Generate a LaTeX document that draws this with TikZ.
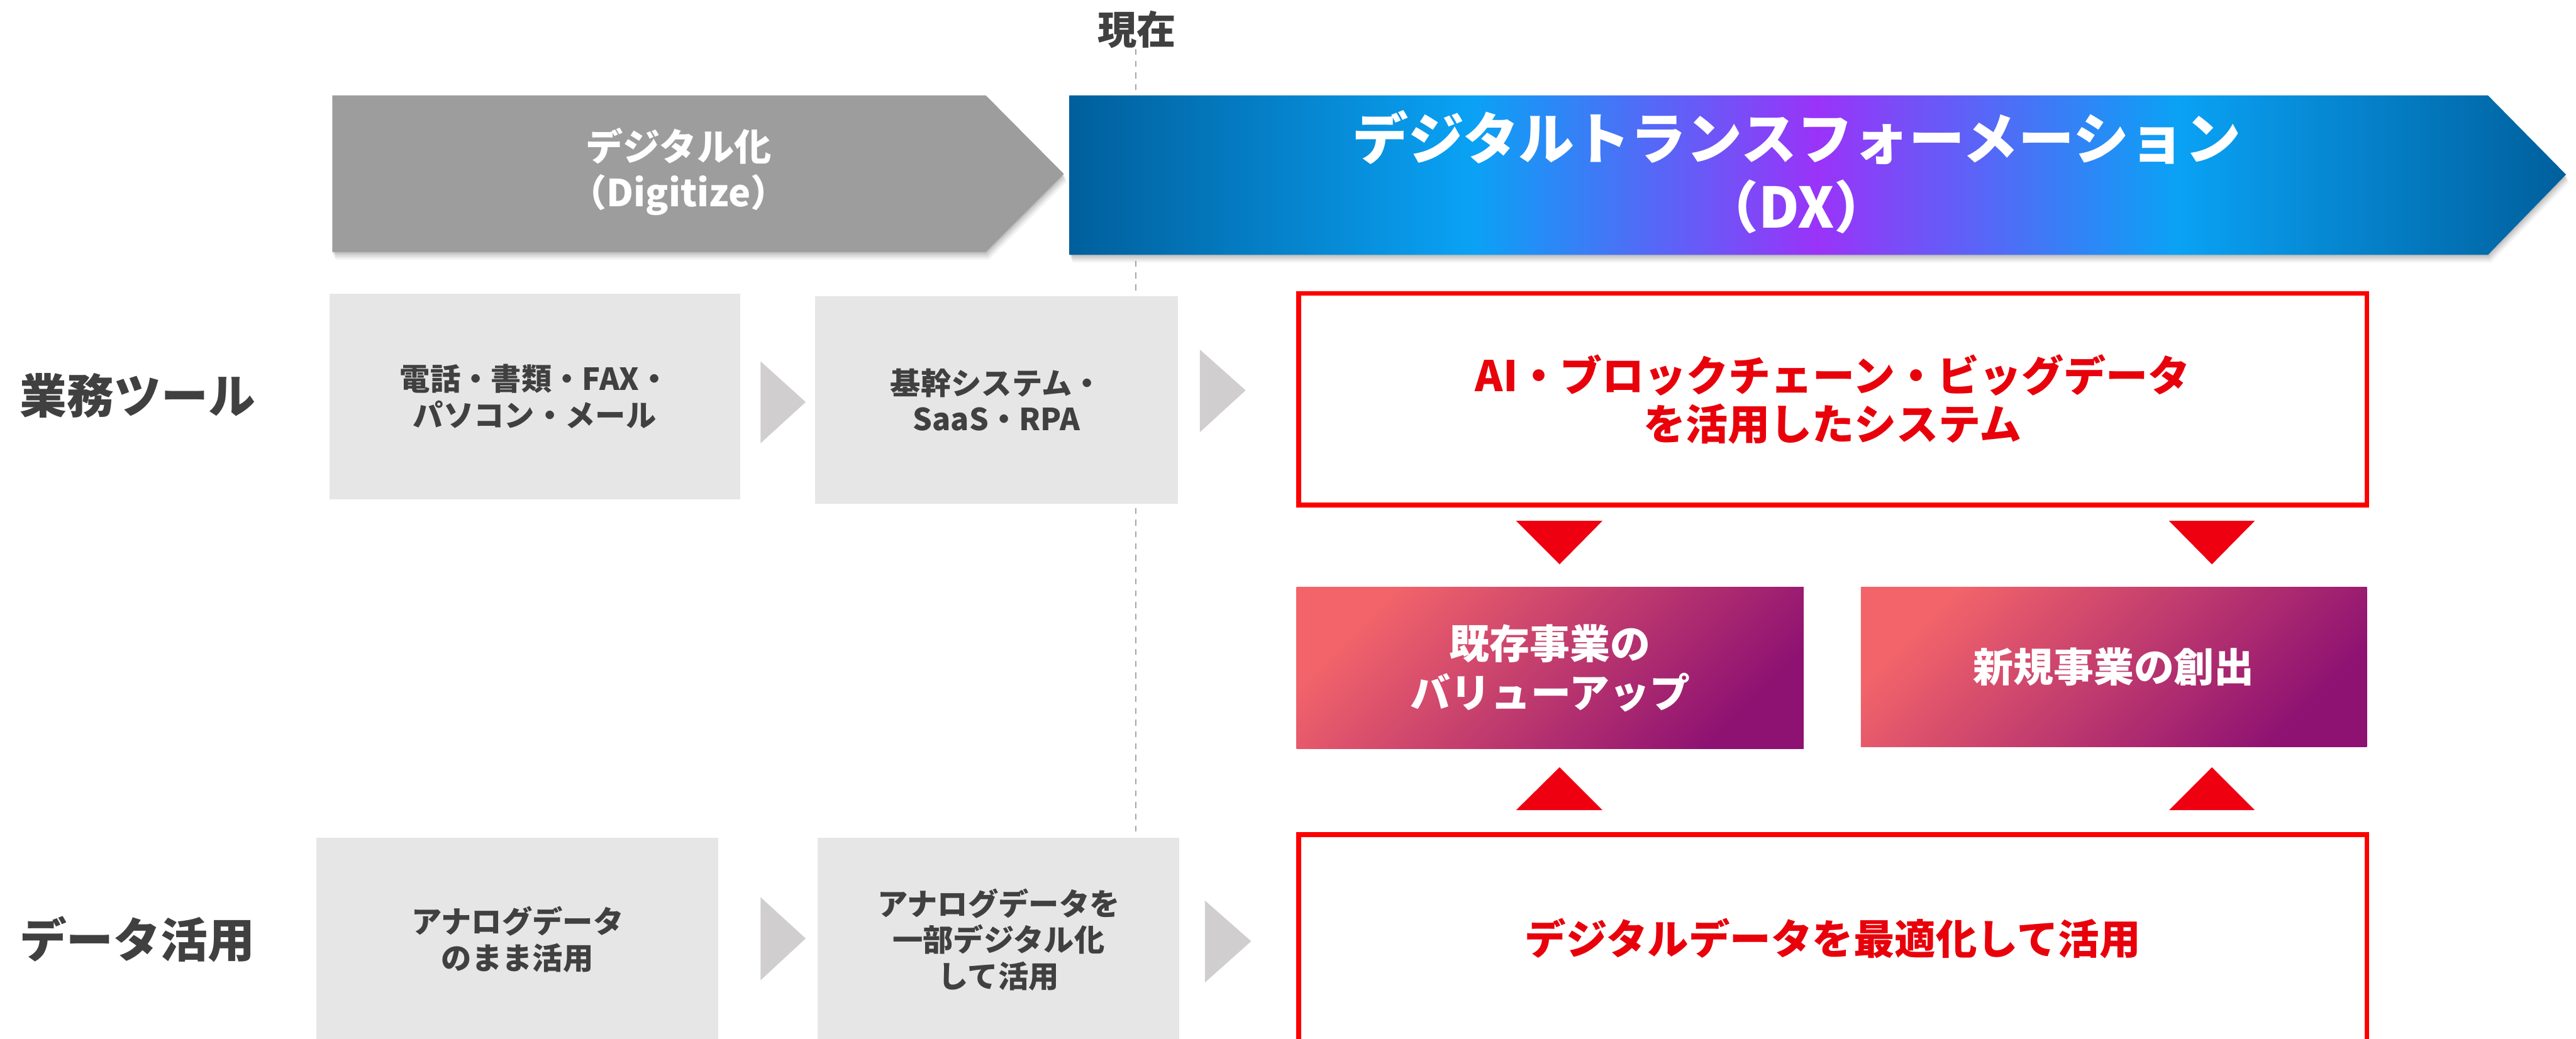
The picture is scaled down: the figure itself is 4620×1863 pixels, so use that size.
\documentclass[tikz,border=0pt]{standalone}
\usepackage{fontspec}
\setmainfont{Noto Sans CJK JP}
\usetikzlibrary{shadings,calc}
\definecolor{txtdark}{HTML}{404040}
\definecolor{boxgray}{HTML}{E7E6E6}
\definecolor{chevgray}{HTML}{D0CECE}
\definecolor{arrowgray}{HTML}{9D9D9D}
\definecolor{lineGray}{HTML}{A6A6A6}
\definecolor{redline}{HTML}{FF0000}
\definecolor{redtext}{HTML}{E8000B}
\definecolor{redtri}{HTML}{EE0011}
\definecolor{coral}{HTML}{F2646A}
\definecolor{plum}{HTML}{8E1272}
\definecolor{dxdark}{HTML}{005F9C}
\definecolor{dxlight}{HTML}{0AA2F5}
\definecolor{dxpurple}{HTML}{9A33F8}
\pgfdeclarehorizontalshading{dxshade}{100bp}{color(0bp)=(dxdark); color(25bp)=(dxdark); color(38.5bp)=(dxlight); color(50bp)=(dxpurple); color(62bp)=(dxlight); color(75bp)=(dxdark); color(100bp)=(dxdark)}
\begin{document}
\begin{tikzpicture}[x=0.01cm,y=-0.01cm,
  rowlbl/.style={text=txtdark,font=\bfseries\fontsize{24}{28}\selectfont,inner sep=0pt},
  graybox/.style={fill=boxgray,draw=none,inner sep=0pt,align=center,text=txtdark,
    font=\bfseries\fontsize{15.5}{18.5}\selectfont},
  redbox/.style={draw=redline,line width=2.4pt,fill=white,inner sep=0pt,align=center,text=redtext,
    minimum width=19.15cm},
  magbox/.style={top color=coral,bottom color=plum,shading angle=45,inner sep=0pt,align=center,
    text=white,font=\bfseries\fontsize{20.5}{25}\selectfont},
  chev/.style={fill=chevgray},
  redtriangle/.style={fill=redtri},
  nowline/.style={draw=lineGray,line width=0.7pt,dash pattern=on 3pt off 3pt}]
\useasboundingbox (0,0) rectangle (4620,1863);

% "now" marker
\node[text=txtdark,font=\bfseries\fontsize{20}{24}\selectfont] (now) at (2039,53) {現在};
\coordinate (lt) at (2037,88);
\coordinate (lb) at (2037,1498);
\draw[nowline] (lt) -- (lb);

% shadows of the phase arrows
\foreach \s/\o in {2/0.07,5/0.07,8/0.06,11/0.05,14/0.04}{
  \fill[black,opacity=\o,shift={(\s*0.4,\s)}] (596,171) -- (1768,171) -- (1908,312) -- (1768,452) -- (596,452) -- cycle;
  \fill[black,opacity=\o,shift={(\s*0.4,\s)}] (1918,171) -- (4462,171) -- (4602,313) -- (4462,457) -- (1918,457) -- cycle;
}
% phase arrows
\fill[arrowgray] (596,171) -- (1768,171) -- (1908,312) -- (1768,452) -- (596,452) -- cycle;
\shade[shading=dxshade] (1918,171) -- (4462,171) -- (4602,313) -- (4462,457) -- (1918,457) -- cycle;
\node[text=white,align=center,font=\bfseries\fontsize{19}{23.6}\selectfont] (digi) at (1217,308) {デジタル化\\（Digitize）};
\node[text=white,align=center,font=\bfseries\fontsize{28.5}{35}\selectfont] (dx) at (3222,309) {デジタルトランスフォーメーション\\（DX）};

% row labels
\node[rowlbl] (rowtool) at (247,710) {業務ツール};
\node[rowlbl] (rowdata) at (246,1685) {データ活用};

% row 1 : tools
\node[graybox,minimum width=7.36cm,minimum height=3.69cm] (t1) at (959,711) {電話・書類・FAX・\\パソコン・メール};
\node[graybox,minimum width=6.51cm,minimum height=3.72cm] (t2) at (1787,717) {基幹システム・\\SaaS・RPA};
\fill[chev] (1364,648) -- (1445,721) -- (1364,795) -- cycle;
\fill[chev] (2152,627) -- (2234,700) -- (2152,775) -- cycle;

% row 2 : data
\node[graybox,minimum width=7.20cm,minimum height=3.66cm] (d1) at (928,1685) {アナログデータ\\のまま活用};
\node[graybox,minimum width=6.48cm,minimum height=3.66cm] (d2) at (1791,1685) {アナログデータを\\一部デジタル化\\して活用};
\fill[chev] (1364,1609) -- (1445,1683) -- (1364,1758) -- cycle;
\fill[chev] (2161,1615) -- (2244,1688) -- (2161,1762) -- cycle;

% DX side
\node[redbox,minimum height=3.79cm,font=\bfseries\fontsize{21.5}{24.8}\selectfont] (ai) at (3287,716) {AI・ブロックチェーン・ビッグデータ\\を活用したシステム};
\node[redbox,minimum height=3.72cm,font=\bfseries\fontsize{21}{24}\selectfont] (opt) at (3287,1683) {デジタルデータを最適化して活用};

\node[magbox,minimum width=9.09cm,minimum height=2.90cm] (val) at (2780,1198) {既存事業の\\バリューアップ};
\node[magbox,minimum width=9.07cm,minimum height=2.87cm] (new) at (3791,1196) {新規事業の創出};

% red triangles
\fill[redtriangle] (2719,934) -- (2874,934) -- (2797,1012) -- cycle;
\fill[redtriangle] (3890,934) -- (4044,934) -- (3967,1012) -- cycle;
\fill[redtriangle] (2719,1453) -- (2874,1453) -- (2797,1376) -- cycle;
\fill[redtriangle] (3890,1453) -- (4044,1453) -- (3967,1376) -- cycle;
\end{tikzpicture}
\end{document}
